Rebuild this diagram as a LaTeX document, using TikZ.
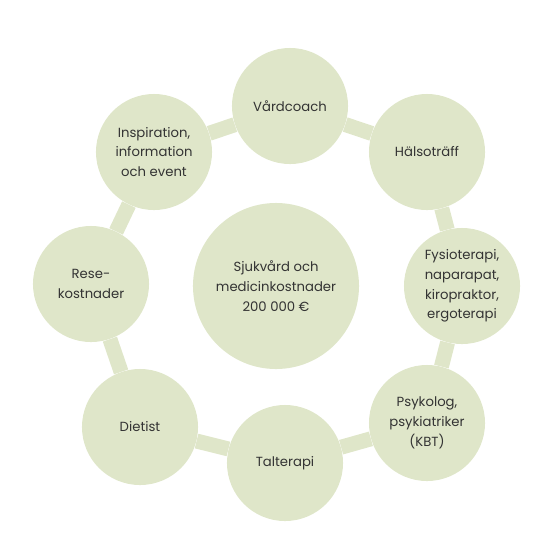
\documentclass[tikz,border=0pt]{standalone}
\usepackage{fontspec}
\setmainfont{Poppins}
\definecolor{sage}{HTML}{DFE6C9}
\definecolor{ink}{HTML}{333333}
\usetikzlibrary{positioning}

\begin{document}
\begin{tikzpicture}[x=0.025cm,y=-0.025cm,
    blob/.style={circle,fill=sage,text=ink,minimum size=2.9cm,inner sep=0pt,
      align=center,font=\fontsize{9.4}{14}\selectfont},
    hub/.style={blob,minimum size=4.15cm},
    ring/.style={sage,line width=15*0.711pt}]
  \useasboundingbox (0,0) rectangle (560,560);
  % Central cost circle
  \node[hub] (mid) at (276,286) {Sjukvård och\\medicinkostnader\\200 000 €};
  % Outer ring of services
  \node[blob] (insp)  at (154,152) {Inspiration,\\information\\och event};
  \node[blob] (vard)  at (290,106) {Vårdcoach};
  \node[blob] (hals)  at (427,152) {Hälsoträff};
  \node[blob] (fysio) at (462,286) {Fysioterapi,\\naparapat,\\kiropraktor,\\ergoterapi};
  \node[blob] (psyk)  at (427,423) {Psykolog,\\psykiatriker\\(KBT)};
  \node[blob] (tal)   at (285,463) {Talterapi};
  \node[blob] (diet)  at (140,427) {Dietist};
  \node[blob] (rese)  at (91,284)  {Rese-\\kostnader};
  % Bands linking the ring
  \foreach \a/\b in {insp/vard,vard/hals,hals/fysio,fysio/psyk,
                     psyk/tal,tal/diet,diet/rese,rese/insp} {
    \draw[ring] (\a) -- (\b);
  }
\end{tikzpicture}
\end{document}
